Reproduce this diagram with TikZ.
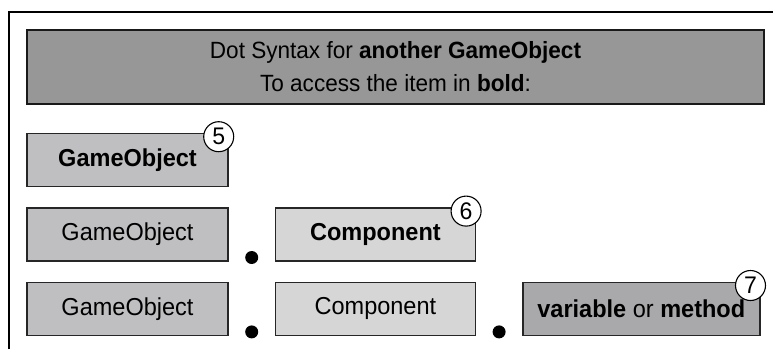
\documentclass[tikz,border=0pt]{standalone}
\usepackage{fontspec}
\setmainfont{Liberation Sans}[FakeStretch=0.96]
\usetikzlibrary{positioning, calc}

\definecolor{headgray}{HTML}{979797}
\definecolor{objgray}{HTML}{BFBFC1}
\definecolor{compgray}{HTML}{D6D6D6}
\definecolor{memgray}{HTML}{A9A9AB}

\begin{document}
\begin{tikzpicture}[
        x=1pt, y=1pt,
        % Define styles for the different blocks
        header/.style={rectangle, draw=black!90, line width=1.4pt, fill=headgray, minimum width=737pt, minimum height=74pt, align=center, font=\fontsize{23.5}{33}\selectfont},
        objbox/.style={rectangle, draw=black!85, line width=1.4pt, fill=objgray, minimum width=201pt, minimum height=53pt, inner sep=0pt, font=\fontsize{24.5}{28}\selectfont},
        compbox/.style={objbox, fill=compgray, minimum width=200pt},
        membox/.style={objbox, fill=memgray, minimum width=237pt},
        dotmark/.style={circle, fill=black, minimum size=13pt, inner sep=0pt},
        stepno/.style={circle, draw=black, line width=1.1pt, fill=white, minimum size=30pt, inner sep=0pt, font=\fontsize{24}{26}\selectfont},
        frame/.style={draw=black, line width=2.4pt}
    ]

    \useasboundingbox (0,0) rectangle (773,-349);

    % Outer frame (top and left only)
    \draw [frame] (9,-349) |- (773,-12);

    % --- Nodes ---
    % Title bar
    \node [header] (title) at (395.5,-67) {Dot Syntax for \textbf{another GameObject}\\To access the item in \textbf{bold}:};

    % Row 1
    \node [objbox, below=28pt of title.south west, anchor=north west] (go1) {\textbf{GameObject}};

    % Row 2
    \node [objbox, below=20pt of go1] (go2) {GameObject};
    \node [compbox, right=46pt of go2] (comp2) {\textbf{Component}};

    % Row 3
    \node [objbox, below=20pt of go2] (go3) {GameObject};
    \node [compbox, right=46pt of go3] (comp3) {Component};
    \node [membox, right=46pt of comp3] (mem3) {\textbf{variable} or \textbf{method}};

    % Dots between the parts
    \node [dotmark] (dot2) at ($ (go2.south east) !0.5! (comp2.south west) + (0,4) $) {};
    \node [dotmark] (dot3a) at ($ (go3.south east) !0.5! (comp3.south west) + (0,4) $) {};
    \node [dotmark] (dot3b) at ($ (comp3.south east) !0.5! (mem3.south west) + (0,4) $) {};

    % Step numbers
    \node [stepno] (n5) at ([shift={(-10,-4)}]go1.north east) {5};
    \node [stepno] (n6) at ([shift={(-10,-4)}]comp2.north east) {6};
    \node [stepno] (n7) at ([shift={(-10,-4)}]mem3.north east) {7};

\end{tikzpicture}
\end{document}
